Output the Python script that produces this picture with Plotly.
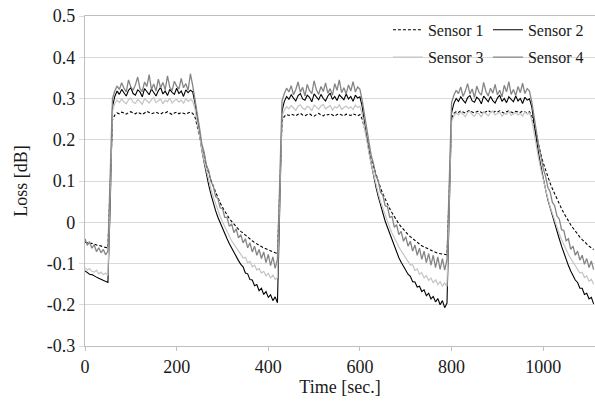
import plotly.graph_objects as go

# ---- data ----
# each sensor is split into segments; each segment starts at the time given in seg_start (s),
# points inside a segment are 5 s apart
seg_start = [0, 60, 240, 430, 605, 800, 975]
sample_step = 5

sensor1 = [
    [-0.048, -0.050, -0.052, -0.051, -0.054, -0.055, -0.056, -0.058, -0.060, -0.061, -0.062, 0.090],
    [0.248, 0.260, 0.265, 0.263, 0.267, 0.265, 0.262, 0.266, 0.268, 0.265, 0.263, 0.267, 0.264, 0.261, 0.265, 0.269, 0.266, 0.263,
     0.265, 0.267, 0.264, 0.262, 0.266, 0.265, 0.268, 0.264, 0.261, 0.265, 0.267, 0.263, 0.266, 0.264, 0.262, 0.265, 0.267, 0.264],
    [0.255, 0.232, 0.205, 0.180, 0.158, 0.137, 0.118, 0.102, 0.087, 0.072, 0.059, 0.047, 0.036, 0.026, 0.017, 0.009, 0.002, -0.005,
     -0.011, -0.017, -0.022, -0.027, -0.032, -0.037, -0.041, -0.045, -0.049, -0.053, -0.056, -0.059, -0.062, -0.065, -0.068, -0.070,
     -0.072, -0.074, -0.076, 0.080],
    [0.245, 0.257, 0.261, 0.259, 0.262, 0.260, 0.258, 0.262, 0.264, 0.260, 0.258, 0.261, 0.263, 0.259, 0.257, 0.261, 0.264, 0.260,
     0.258, 0.262, 0.260, 0.263, 0.259, 0.257, 0.261, 0.263, 0.260, 0.258, 0.262, 0.261, 0.259, 0.263, 0.260, 0.258, 0.261],
    [0.250, 0.228, 0.202, 0.178, 0.155, 0.134, 0.115, 0.098, 0.083, 0.069, 0.056, 0.044, 0.033, 0.023, 0.013, 0.004, -0.004, -0.011,
     -0.018, -0.024, -0.030, -0.035, -0.040, -0.045, -0.049, -0.053, -0.057, -0.060, -0.063, -0.066, -0.069, -0.071, -0.073, -0.075,
     -0.076, -0.077, -0.078, -0.079, 0.080],
    [0.252, 0.264, 0.268, 0.266, 0.270, 0.267, 0.265, 0.269, 0.271, 0.267, 0.265, 0.268, 0.270, 0.266, 0.264, 0.268, 0.271, 0.267,
     0.265, 0.269, 0.267, 0.270, 0.266, 0.264, 0.268, 0.270, 0.267, 0.265, 0.269, 0.268, 0.266, 0.270, 0.267, 0.265, 0.268],
    [0.258, 0.236, 0.210, 0.186, 0.164, 0.144, 0.126, 0.110, 0.095, 0.081, 0.068, 0.056, 0.044, 0.033, 0.022, 0.012, 0.003, -0.006,
     -0.014, -0.022, -0.029, -0.036, -0.042, -0.048, -0.053, -0.058, -0.062, -0.066],
]

sensor2 = [
    [-0.118, -0.122, -0.126, -0.127, -0.131, -0.133, -0.136, -0.139, -0.141, -0.144, -0.146, 0.040],
    [0.280, 0.305, 0.318, 0.310, 0.322, 0.314, 0.306, 0.320, 0.326, 0.312, 0.308, 0.321, 0.316, 0.304, 0.324, 0.317, 0.309, 0.323,
     0.313, 0.306, 0.319, 0.327, 0.311, 0.318, 0.307, 0.322, 0.315, 0.310, 0.325, 0.312, 0.318, 0.305, 0.321, 0.314, 0.320, 0.316],
    [0.290, 0.250, 0.210, 0.175, 0.145, 0.115, 0.090, 0.067, 0.046, 0.028, 0.012, -0.002, -0.015, -0.028, -0.040, -0.052, -0.063,
     -0.073, -0.083, -0.093, -0.102, -0.108, -0.123, -0.125, -0.139, -0.140, -0.154, -0.151, -0.166, -0.160, -0.175, -0.168, -0.182,
     -0.176, -0.190, -0.181, -0.195, 0.030],
    [0.270, 0.293, 0.305, 0.298, 0.309, 0.301, 0.294, 0.307, 0.312, 0.299, 0.296, 0.308, 0.303, 0.292, 0.311, 0.304, 0.297, 0.310,
     0.300, 0.294, 0.306, 0.313, 0.298, 0.305, 0.295, 0.309, 0.302, 0.297, 0.311, 0.299, 0.305, 0.293, 0.308, 0.301, 0.304],
    [0.280, 0.240, 0.200, 0.170, 0.140, 0.110, 0.085, 0.062, 0.040, 0.020, 0.003, -0.012, -0.027, -0.042, -0.058, -0.072, -0.086,
     -0.097, -0.107, -0.117, -0.126, -0.131, -0.144, -0.145, -0.157, -0.155, -0.168, -0.164, -0.178, -0.172, -0.186, -0.180, -0.193,
     -0.185, -0.200, -0.190, -0.207, -0.196, 0.030],
    [0.265, 0.288, 0.300, 0.293, 0.304, 0.296, 0.289, 0.302, 0.307, 0.294, 0.291, 0.303, 0.298, 0.287, 0.306, 0.299, 0.292, 0.305,
     0.295, 0.289, 0.301, 0.308, 0.293, 0.300, 0.290, 0.304, 0.297, 0.292, 0.306, 0.294, 0.300, 0.288, 0.303, 0.296, 0.299],
    [0.280, 0.240, 0.200, 0.165, 0.135, 0.105, 0.080, 0.055, 0.035, 0.015, -0.005, -0.022, -0.040, -0.058, -0.075, -0.090, -0.105,
     -0.118, -0.130, -0.140, -0.146, -0.160, -0.160, -0.175, -0.172, -0.186, -0.182, -0.198],
]

sensor3 = [
    [-0.110, -0.116, -0.112, -0.119, -0.121, -0.116, -0.125, -0.121, -0.127, -0.123, -0.129, 0.050],
    [0.270, 0.288, 0.296, 0.290, 0.299, 0.292, 0.287, 0.297, 0.301, 0.291, 0.288, 0.298, 0.293, 0.286, 0.300, 0.295, 0.289, 0.297,
     0.302, 0.290, 0.294, 0.299, 0.287, 0.296, 0.292, 0.301, 0.289, 0.295, 0.298, 0.291, 0.296, 0.288, 0.300, 0.293, 0.297, 0.294],
    [0.275, 0.240, 0.206, 0.176, 0.148, 0.124, 0.100, 0.080, 0.061, 0.044, 0.028, 0.014, 0.001, -0.012, -0.024, -0.034, -0.045,
     -0.053, -0.062, -0.069, -0.077, -0.086, -0.085, -0.098, -0.095, -0.108, -0.104, -0.116, -0.112, -0.123, -0.119, -0.130, -0.124,
     -0.135, -0.128, -0.139, -0.134, 0.060],
    [0.258, 0.272, 0.280, 0.275, 0.283, 0.277, 0.271, 0.282, 0.285, 0.276, 0.273, 0.281, 0.278, 0.270, 0.284, 0.279, 0.274, 0.282,
     0.286, 0.275, 0.279, 0.283, 0.272, 0.280, 0.277, 0.285, 0.274, 0.279, 0.282, 0.276, 0.280, 0.273, 0.284, 0.278, 0.281],
    [0.262, 0.228, 0.195, 0.166, 0.139, 0.114, 0.091, 0.070, 0.050, 0.033, 0.016, 0.001, -0.013, -0.026, -0.038, -0.049, -0.060,
     -0.069, -0.078, -0.086, -0.094, -0.104, -0.103, -0.117, -0.113, -0.126, -0.122, -0.135, -0.129, -0.141, -0.135, -0.147, -0.139,
     -0.151, -0.144, -0.155, -0.147, -0.156, 0.060],
    [0.245, 0.258, 0.265, 0.260, 0.267, 0.262, 0.256, 0.266, 0.269, 0.261, 0.257, 0.265, 0.263, 0.255, 0.268, 0.263, 0.258, 0.266,
     0.270, 0.260, 0.263, 0.267, 0.257, 0.264, 0.261, 0.269, 0.259, 0.263, 0.266, 0.260, 0.264, 0.257, 0.268, 0.262, 0.265],
    [0.248, 0.215, 0.183, 0.154, 0.127, 0.102, 0.079, 0.058, 0.038, 0.020, 0.003, -0.013, -0.028, -0.042, -0.055, -0.067, -0.078,
     -0.088, -0.097, -0.105, -0.112, -0.123, -0.121, -0.134, -0.130, -0.143, -0.138, -0.150],
]

sensor4 = [
    [-0.040, -0.056, -0.047, -0.063, -0.055, -0.071, -0.062, -0.074, -0.066, -0.079, -0.070, 0.120],
    [0.300, 0.318, 0.330, 0.322, 0.338, 0.325, 0.316, 0.345, 0.328, 0.320, 0.333, 0.352, 0.324, 0.317, 0.340, 0.329, 0.358, 0.322,
     0.335, 0.318, 0.347, 0.326, 0.339, 0.321, 0.355, 0.327, 0.319, 0.342, 0.330, 0.323, 0.349, 0.326, 0.336, 0.320, 0.360, 0.332],
    [0.300, 0.262, 0.228, 0.190, 0.170, 0.138, 0.125, 0.098, 0.088, 0.062, 0.058, 0.035, 0.033, 0.012, 0.012, -0.010, -0.004,
     -0.025, -0.016, -0.038, -0.030, -0.050, -0.040, -0.062, -0.050, -0.072, -0.058, -0.080, -0.066, -0.088, -0.072, -0.098, -0.078,
     -0.105, -0.084, -0.112, -0.090, 0.100],
    [0.295, 0.312, 0.325, 0.316, 0.331, 0.309, 0.322, 0.340, 0.315, 0.327, 0.306, 0.334, 0.319, 0.312, 0.343, 0.321, 0.310, 0.329,
     0.317, 0.338, 0.313, 0.324, 0.308, 0.336, 0.320, 0.345, 0.314, 0.326, 0.311, 0.333, 0.318, 0.341, 0.316, 0.328, 0.322],
    [0.295, 0.258, 0.222, 0.192, 0.160, 0.140, 0.112, 0.100, 0.072, 0.066, 0.040, 0.038, 0.012, 0.014, -0.012, -0.006, -0.030,
     -0.022, -0.046, -0.035, -0.058, -0.046, -0.070, -0.055, -0.080, -0.063, -0.090, -0.070, -0.098, -0.076, -0.104, -0.080, -0.110,
     -0.084, -0.114, -0.088, -0.116, -0.090, 0.100],
    [0.290, 0.308, 0.320, 0.312, 0.328, 0.305, 0.318, 0.336, 0.311, 0.323, 0.302, 0.330, 0.315, 0.308, 0.339, 0.317, 0.306, 0.325,
     0.313, 0.334, 0.309, 0.320, 0.304, 0.332, 0.316, 0.341, 0.310, 0.322, 0.307, 0.329, 0.314, 0.337, 0.312, 0.324, 0.318],
    [0.292, 0.255, 0.220, 0.185, 0.160, 0.130, 0.112, 0.085, 0.074, 0.048, 0.040, 0.015, 0.008, -0.018, -0.020, -0.045, -0.040,
     -0.066, -0.058, -0.080, -0.070, -0.092, -0.080, -0.102, -0.088, -0.110, -0.094, -0.115],
]

sensor_names = ["Sensor 1", "Sensor 2", "Sensor 3", "Sensor 4"]
x_tick_vals = [0, 200, 400, 600, 800, 1000]
x_tick_text = ["0", "200", "400", "600", "800", "1000"]
y_tick_vals = [-0.3, -0.2, -0.1, 0.0, 0.1, 0.2, 0.3, 0.4, 0.5]
y_tick_text = ["-0.3", "-0.2", "-0.1", "0", "0.1", "0.2", "0.3", "0.4", "0.5"]


def flatten(segments):
    xs, ys = [], []
    for start, seg in zip(seg_start, segments):
        for k, v in enumerate(seg):
            xs.append(start + k * sample_step)
            ys.append(v)
    return xs, ys


styles = [
    dict(color="#000000", width=1.1, dash="3px,2px"),
    dict(color="#000000", width=1.1),
    dict(color="#c4c4c4", width=1.2),
    dict(color="#858585", width=1.3),
]
legend_ids = ["legend", "legend", "legend2", "legend2"]

fig = go.Figure()
for name, segs, st, lg in zip(sensor_names, [sensor1, sensor2, sensor3, sensor4], styles, legend_ids):
    xs, ys = flatten(segs)
    fig.add_trace(go.Scatter(x=xs, y=ys, mode="lines", name=name, line=st, legend=lg))

font_family = "'Liberation Serif', 'Times New Roman', 'DejaVu Serif', serif"
text_color = "#1a1a1a"
legend_common = dict(
    orientation="h", xanchor="left", yanchor="middle", x=0.594,
    bgcolor="rgba(0,0,0,0)", borderwidth=0,
    font=dict(family=font_family, size=16, color=text_color),
    entrywidth=55, entrywidthmode="pixels", tracegroupgap=0,
)

fig.update_layout(
    width=595, height=403,
    margin=dict(l=85, r=0, t=16, b=57, autoexpand=False),
    paper_bgcolor="white", plot_bgcolor="white",
    font=dict(family=font_family, size=17, color=text_color),
    legend=dict(y=0.958, **legend_common),
    legend2=dict(y=0.875, **legend_common),
    xaxis=dict(
        range=[0, 1113], tickmode="array", tickvals=x_tick_vals, ticktext=x_tick_text,
        showgrid=False, zeroline=False, showline=True, linecolor="#bfbfbf", linewidth=1.3,
        mirror=True, ticks="outside", ticklen=4, tickcolor="#bfbfbf", automargin=False,
        tickfont=dict(family=font_family, size=18, color=text_color),
        title=dict(text="Time [sec.]", font=dict(family=font_family, size=18, color=text_color), standoff=4),
    ),
    yaxis=dict(
        range=[-0.3, 0.5], tickmode="array", tickvals=y_tick_vals, ticktext=y_tick_text,
        showgrid=True, gridcolor="#d9d9d9", gridwidth=1.3, zeroline=False,
        showline=True, linecolor="#bfbfbf", linewidth=1.3, automargin=False,
        ticks="outside", ticklen=5, tickcolor="#d9d9d9",
        tickfont=dict(family=font_family, size=18, color=text_color),
        title=dict(text="Loss [dB]", font=dict(family=font_family, size=18, color=text_color), standoff=14),
    ),
)

fig.write_html("out.html", config={"displayModeBar": False},
               post_script="document.body.style.margin='0px';")
